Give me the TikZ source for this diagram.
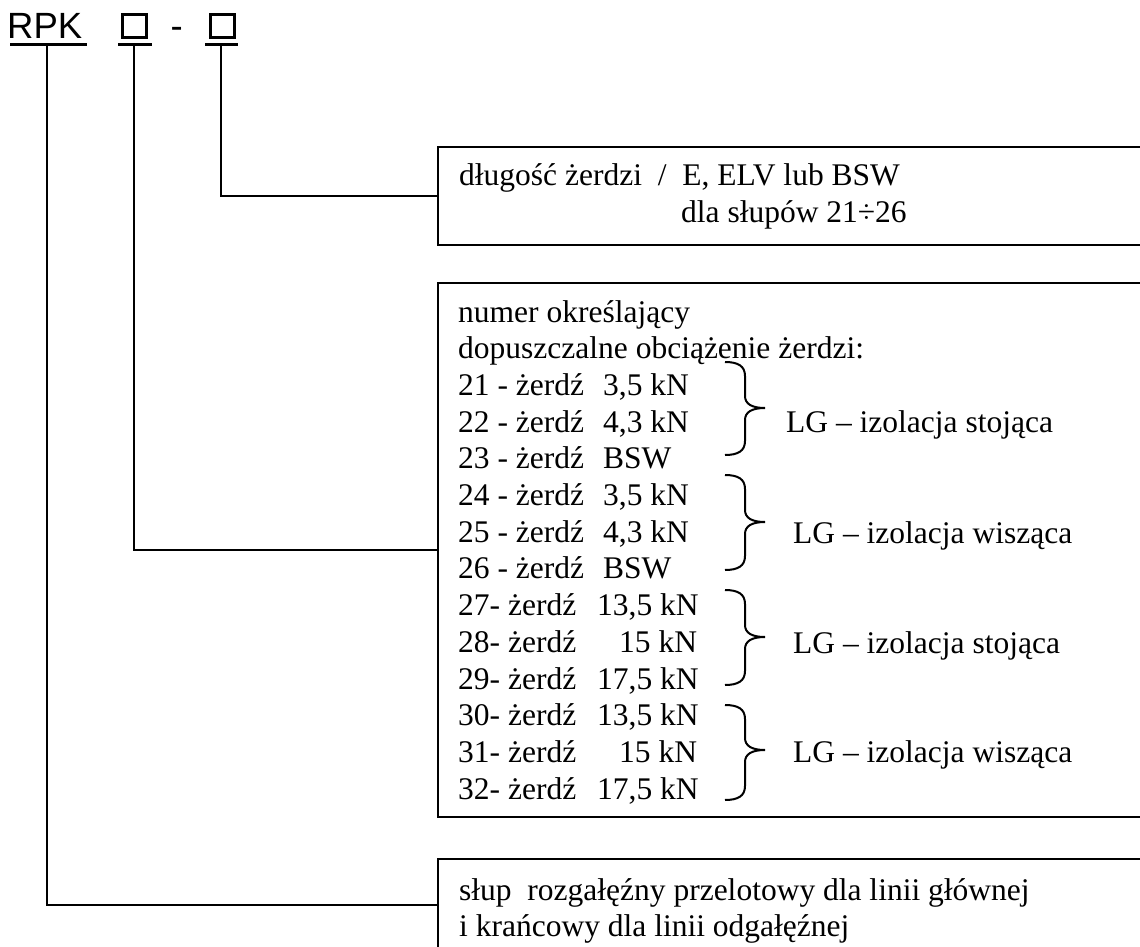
\documentclass[tikz,border=0pt]{standalone}
\usepackage{fontspec}
\setmainfont{Liberation Serif}
\newfontfamily\arialf{Liberation Sans}
\newcommand\mybrace[3]{%
  \draw[brace] (725,#1) .. controls (738,#1) and (745,#1+4) .. (745,#1+14)
    -- (745,#2-12) .. controls (745,#2-4) and (752,#2) .. (765,#2)
    .. controls (752,#2) and (745,#2+4) .. (745,#2+12)
    -- (745,#3-14) .. controls (745,#3-4) and (738,#3) .. (725,#3);}
\begin{document}
\begin{tikzpicture}[x=1pt,y=-1pt,
  txt/.style={anchor=base west, inner sep=0pt, font=\fontsize{31.5}{36.7}\selectfont},
  sans/.style={anchor=base west, inner sep=0pt, font=\arialf\fontsize{36.5}{40}\selectfont},
  box/.style={draw, line width=2.2pt, minimum width=722pt, inner sep=0pt},
  sq/.style={draw, line width=3pt, minimum width=24pt, minimum height=23pt, inner sep=0pt},
  conn/.style={line width=2pt},
  ul/.style={line width=3pt},
  brace/.style={line width=2pt}]
\useasboundingbox (0,0) rectangle (1140,947);
\clip (0,0) rectangle (1140,947);
% header
\node[sans] (rpk) at (7,39) {RPK};
\node[sq] (sqa) at (134.5,26) {};
\node[sans] (dash) at (170.5,39) {-};
\node[sq] (sqb) at (222,26) {};
\draw[ul] (10,44.5) -- (87,44.5);
\draw[ul] (118,44.5) -- (152,44.5);
\draw[ul] (205,44.5) -- (238,44.5);
\coordinate (ur) at (47,44);
\coordinate (ua) at (134,44);
\coordinate (ub) at (221,44);
% boxes
\node[box, minimum height=98pt] (boxA) at (799,196) {};
\node[box, minimum height=534pt] (boxB) at (799,550) {};
\node[box, minimum height=92pt] (boxC) at (799,905) {};
% connectors
\draw[conn] (ub) |- (boxA.west);
\draw[conn] (ua) |- (boxB.west);
\draw[conn] (ur) |- (boxC.west);
% box A text
\node[txt] (a1) at (459,185) {długość żerdzi~~/~~E, ELV lub BSW};
\node[txt] (a2) at (681,222) {dla słupów 21÷26};
% box B text
\node[txt] (b0) at (458,322) {numer określający};
\node[txt] (b1) at (458,358.7) {dopuszczalne obciążenie żerdzi:};
\node[txt] (l21) at (458,395.4) {\makebox[145pt][l]{21 - żerdź}3,5 kN};
\node[txt] (l22) at (458,432.1) {\makebox[145pt][l]{22 - żerdź}4,3 kN};
\node[txt] (l23) at (458,468.8) {\makebox[145pt][l]{23 - żerdź}BSW};
\node[txt] (l24) at (458,505.5) {\makebox[145pt][l]{24 - żerdź}3,5 kN};
\node[txt] (l25) at (458,542.2) {\makebox[145pt][l]{25 - żerdź}4,3 kN};
\node[txt] (l26) at (458,578.9) {\makebox[145pt][l]{26 - żerdź}BSW};
\node[txt] (l27) at (458,615.6) {\makebox[139pt][l]{27- żerdź}13,5 kN};
\node[txt] (l28) at (458,652.3) {\makebox[161pt][l]{28- żerdź}15 kN};
\node[txt] (l29) at (458,689.0) {\makebox[139pt][l]{29- żerdź}17,5 kN};
\node[txt] (l30) at (458,725.7) {\makebox[139pt][l]{30- żerdź}13,5 kN};
\node[txt] (l31) at (458,762.4) {\makebox[161pt][l]{31- żerdź}15 kN};
\node[txt] (l32) at (458,799.1) {\makebox[139pt][l]{32- żerdź}17,5 kN};
% braces
\mybrace{362}{408}{455}
\mybrace{475}{522}{570}
\mybrace{590}{637}{685}
\mybrace{705}{750}{800}
\node[txt] (g1) at (786,432) {LG – izolacja stojąca};
\node[txt] (g2) at (793,543) {LG – izolacja wisząca};
\node[txt] (g3) at (793,653) {LG – izolacja stojąca};
\node[txt] (g4) at (793,762) {LG – izolacja wisząca};
% box C text
\node[txt] (c1) at (459,900) {słup~~rozgałęźny przelotowy dla linii głównej};
\node[txt] (c2) at (459,936) {i krańcowy dla linii odgałęźnej};
\end{tikzpicture}
\end{document}
